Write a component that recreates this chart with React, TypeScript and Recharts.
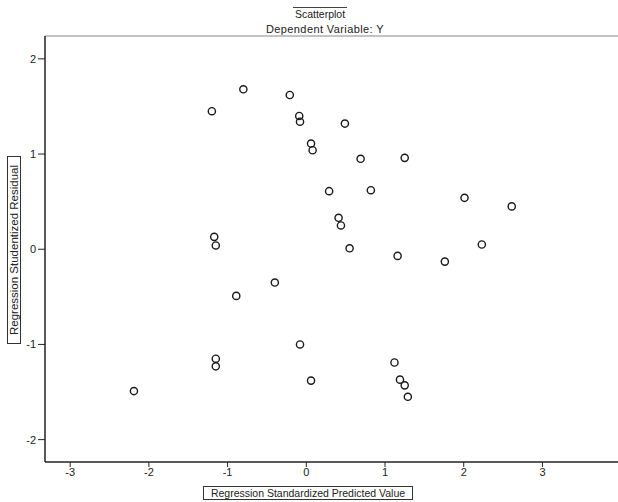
import React from "react";
import { ScatterChart, Scatter, XAxis, YAxis, ReferenceLine } from "recharts";

// standardized predicted value (x) vs studentized residual (y)
const predicted = [
  -0.8, -1.2, -0.21, -0.09, -0.08, 0.06, 0.08, 0.49, 0.69, 1.25, 0.29,
  0.82, 0.41, 0.44, 0.55, 1.16, 1.76, 2.01, 2.61, 2.23, -1.17, -1.15,
  -0.89, -0.4, -1.15, -1.15, -0.08, 0.06, 1.12, 1.19, 1.25, 1.29, -2.19,
];
const residual = [
  1.68, 1.45, 1.62, 1.4, 1.34, 1.11, 1.04, 1.32, 0.95, 0.96, 0.61,
  0.62, 0.33, 0.25, 0.01, -0.07, -0.13, 0.54, 0.45, 0.05, 0.13, 0.04,
  -0.49, -0.35, -1.15, -1.23, -1.0, -1.38, -1.19, -1.37, -1.43, -1.55, -1.49,
];
const xTicks = [-3, -2, -1, 0, 1, 2, 3];
const yTicks = [-2, -1, 0, 1, 2];

const points = predicted.map((x, i) => ({ x, y: residual[i] }));

const font = "'Liberation Sans', Arial, sans-serif";

const Ring = (props: any) => (
  <circle cx={props.cx} cy={props.cy} r={3.6} fill="none" stroke="#1a1a1a" strokeWidth={1.4} />
);

export default function App() {
  return (
    <div style={{ position: "absolute", left: 0, top: 0, width: 618, height: 502, overflow: "hidden", background: "#fff", fontFamily: font }}>
      <div style={{ position: "absolute", left: 0, width: 640, top: 8, textAlign: "center", fontSize: 10.5, color: "#222" }}>
        <span style={{ borderTop: "1px solid #444", padding: "0 2px" }}>Scatterplot</span>
      </div>
      <div style={{ position: "absolute", left: 0, width: 650, top: 23, textAlign: "center", fontSize: 11, letterSpacing: 0.4, color: "#222" }}>
        Dependent Variable: Y
      </div>
      <ScatterChart width={618} height={502} margin={{ top: 36, right: 0, bottom: 0, left: 0 }}>
        <XAxis
          type="number"
          dataKey="x"
          domain={[-3.32, 3.96]}
          ticks={xTicks}
          allowDataOverflow
          height={40}
          tickSize={5}
          tickMargin={1}
          tick={{ fontSize: 11, fill: "#222", fontFamily: font }}
          axisLine={{ stroke: "#222", strokeWidth: 1.5 }}
          tickLine={{ stroke: "#222" }}
        />
        <YAxis
          type="number"
          dataKey="y"
          domain={[-2.235, 2.24]}
          ticks={yTicks}
          allowDataOverflow
          width={45}
          tickSize={7}
          tickMargin={2}
          tick={{ fontSize: 11, fill: "#222", fontFamily: font }}
          axisLine={{ stroke: "#222", strokeWidth: 1.5 }}
          tickLine={{ stroke: "#222" }}
        />
        <ReferenceLine y={2.24} stroke="#888" strokeWidth={1} />
        <Scatter data={points} shape={Ring} isAnimationActive={false} />
      </ScatterChart>
      <div style={{ position: "absolute", left: 203, top: 486, width: 208, height: 12, border: "1px solid #333", fontSize: 10.5, lineHeight: "12px", textAlign: "center", color: "#222", whiteSpace: "nowrap", overflow: "hidden" }}>
        Regression Standardized Predicted Value
      </div>
      <div style={{ position: "absolute", left: 14, top: 250, width: 186, height: 12, border: "1px solid #333", fontSize: 11.5, lineHeight: "12px", textAlign: "center", color: "#222", whiteSpace: "nowrap", transform: "translate(-50%, -50%) rotate(-90deg)" }}>
        Regression Studentized Residual
      </div>
    </div>
  );
}
